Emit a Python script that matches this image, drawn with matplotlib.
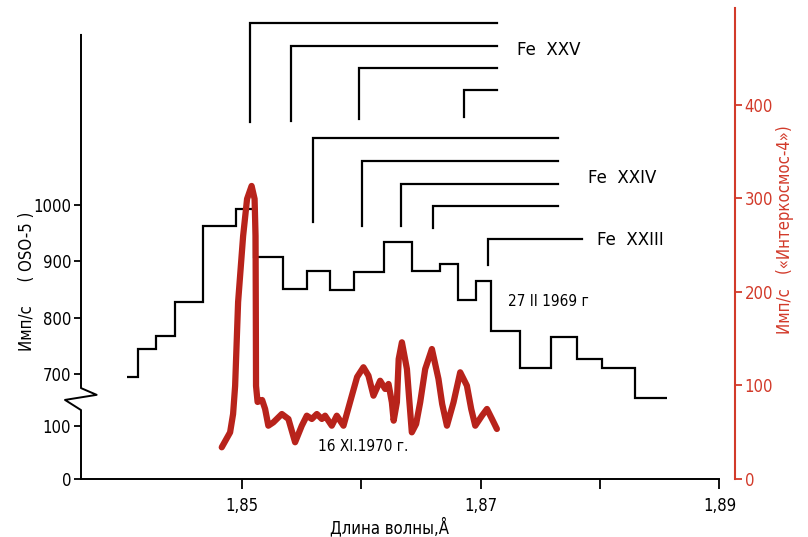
import matplotlib
matplotlib.use('Agg')
import matplotlib.pyplot as plt

plt.rcParams['font.family'] = ['DejaVu Sans']
plt.rcParams['font.stretch'] = 'condensed'

###############################################################################

# OSO-5 spectrum, 27 II 1969 (step histogram): bin edges in A, counts in imp/s
oso_edges = [1.8404, 1.8413, 1.8428, 1.8444, 1.8468, 1.8495, 1.8510, 1.8535,
             1.8555, 1.8574, 1.8594, 1.8619, 1.8643, 1.8666, 1.8681, 1.8696,
             1.8709, 1.8733, 1.8759, 1.8781, 1.8802, 1.8829, 1.8856]
oso_counts = [694, 744, 768, 827, 963, 993, 908, 851, 883, 849, 881, 934,
              883, 895, 831, 866, 776, 710, 765, 727, 710, 657]

# Interkosmos-4 spectrum, 16 XI 1970
ik_wave = [1.84834, 1.84904, 1.84929, 1.84946, 1.84971, 1.85013, 1.85046,
           1.85084, 1.85109, 1.85117, 1.85119, 1.85121, 1.85134, 1.85172,
           1.85197, 1.85224, 1.85266, 1.85337, 1.85392, 1.85448, 1.85504,
           1.85546, 1.85588, 1.85630, 1.85672, 1.85699, 1.85755, 1.85797,
           1.85853, 1.85923, 1.85967, 1.86020, 1.86062, 1.86104, 1.86160,
           1.86202, 1.86230, 1.86258, 1.86273, 1.86300, 1.86315, 1.86342,
           1.86384, 1.86403, 1.86425, 1.86461, 1.86495, 1.86537, 1.86593,
           1.86648, 1.86679, 1.86719, 1.86774, 1.86830, 1.86886, 1.86922,
           1.86956, 1.87012, 1.87054, 1.87096, 1.87137]
ik_counts = [33.9, 49.9, 69.5, 99.5, 189.3, 259.9, 299.5, 313.4, 299.5, 259.9,
             189.3, 99.5, 82.4, 84.5, 74.9, 57.0, 60.6, 69.5, 64.2, 39.3,
             57.0, 67.7, 64.2, 69.5, 64.2, 67.7, 57.0, 67.7, 57.0, 89.1,
             109.1, 119.5, 110.5, 89.1, 105.1, 96.3, 101.6, 82.0, 62.4, 82.0,
             128.3, 146.2, 117.6, 85.6, 49.9, 58.8, 82.0, 117.6, 139.0, 107.0,
             80.2, 57.0, 82.0, 114.1, 99.8, 74.9, 57.0, 67.7, 74.9, 64.2, 53.5]

# Line identification brackets: wavelength, top level, base level
fe25_wave = [1.85067, 1.85412, 1.85987, 1.86858]
fe25_top = [1323, 1283, 1244, 1204]
fe25_base = [1148, 1150, 1153, 1156]
fe25_end = 1.87137

fe24_wave = [1.85601, 1.86007, 1.86333, 1.86606]
fe24_top = [1119, 1078, 1038, 998]
fe24_base = [969, 963, 963, 960]
fe24_end = 1.87651

fe23_wave = [1.87059]
fe23_top = [939]
fe23_base = [893]
fe23_end = 1.87849

# Broken left axis: lower part (0, 100) squeezed under the 700 mark
left_ticks = [513.6, 607.7, 700, 800, 900, 1000]
left_labels = ['0', '100', '700', '800', '900', '1000']
right_ticks = [0, 100, 200, 300, 400]
x_ticks = [1.85, 1.86, 1.87, 1.88, 1.89]
x_labels = ['1,85', '', '1,87', '', '1,89']

###############################################################################

red_axis = '#d23a2a'
red_line = '#b8231b'

fig = plt.figure(figsize=(8.08, 5.37), dpi=100)
ax = fig.add_axes([81 / 808, 58 / 537, 654 / 808, 471 / 537])
x0, x1 = 1.83656, 1.89130
ax.set_xlim(x0, x1)
ax.set_ylim(513.6, 1349.8)

# OSO-5 step spectrum
ax.stairs(oso_counts, oso_edges, color='black', lw=1.6, baseline=None)

# Line brackets
for waves, tops, bases, end in [(fe25_wave, fe25_top, fe25_base, fe25_end),
                                (fe24_wave, fe24_top, fe24_base, fe24_end),
                                (fe23_wave, fe23_top, fe23_base, fe23_end)]:
    for w, t, b in zip(waves, tops, bases):
        ax.plot([w, w, end], [b, t, t], color='black', lw=1.6,
                solid_joinstyle='miter')

ax.text(1.87307, 1275, 'Fe  XXV', fontsize=12, va='center',
        fontstretch='normal')
ax.text(1.87902, 1048, 'Fe  XXIV', fontsize=12, va='center',
        fontstretch='normal')
ax.text(1.87977, 938, 'Fe  XXIII', fontsize=12, va='center',
        fontstretch='normal')
ax.text(1.87232, 828, '27 II 1969 г', fontsize=11, va='center')

# Left axis with the break zigzag
for side in ['left', 'top', 'right']:
    ax.spines[side].set_visible(False)
ax.spines['bottom'].set_bounds(x0, 1.89)
ax.spines['bottom'].set_linewidth(1.4)
ax.plot([x0, x0, 1.83787, 1.83522, x0, x0],
        [1302, 675, 663, 654, 636, 513.6],
        color='black', lw=1.4, clip_on=False)
ax.set_yticks(left_ticks)
ax.set_yticklabels(left_labels)
ax.set_xticks(x_ticks)
ax.set_xticklabels(x_labels)
ax.tick_params(axis='y', direction='out', length=5, width=1.3, labelsize=12,
               pad=2)
ax.tick_params(axis='x', direction='out', length=7, width=1.3, labelsize=12,
               pad=6)

# Interkosmos-4 on the red right-hand scale
ax2 = ax.twinx()
ax2.set_ylim(0, 503.7)
ax2.plot(ik_wave, ik_counts, color=red_line, lw=4.5,
         solid_joinstyle='round', solid_capstyle='round')
ax2.text(1.85641, 35, '16 XI.1970 г.', fontsize=11, va='center')
for side in ['left', 'top', 'bottom']:
    ax2.spines[side].set_visible(False)
ax2.spines['right'].set_color(red_axis)
ax2.spines['right'].set_linewidth(1.5)
ax2.set_yticks(right_ticks)
ax2.tick_params(axis='y', colors=red_axis, direction='out', length=5,
                width=1.3, labelsize=12, pad=2)

fig.text(27 / 808, 1 - 281 / 537, 'Имп/с     ( OSO-5 )', rotation=90,
         ha='center', va='center', fontsize=12)
fig.text(785 / 808, 1 - 230 / 537, 'Имп/с   («Интеркосмос-4»)', rotation=90,
         ha='center', va='center', fontsize=12, color=red_axis)
fig.text(390 / 808, 1 - 527 / 537, 'Длина волны,Å', ha='center',
         va='center', fontsize=12)

plt.savefig('out.png', dpi=100)
